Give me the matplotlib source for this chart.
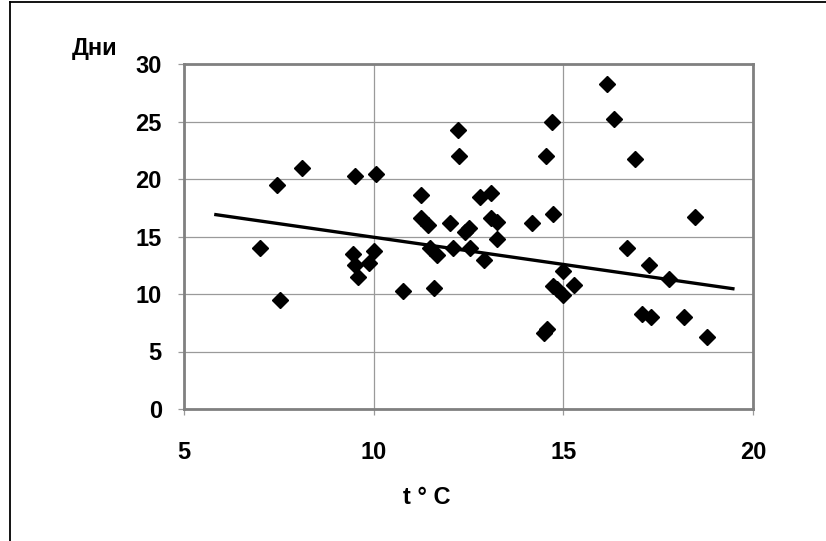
import matplotlib
matplotlib.use("Agg")
import matplotlib.pyplot as plt
from matplotlib.lines import Line2D
import numpy as np

# Температура (t, °C) і тривалість (дні)
temp = [7.0, 7.45, 7.52, 8.12, 9.45, 9.5, 9.52, 9.58, 9.89, 10.02, 10.06,
        10.77, 11.25, 11.25, 11.43, 11.48, 11.58, 11.67, 12.0, 12.1, 12.23,
        12.26, 12.41, 12.52, 12.53, 12.81, 12.9, 13.1, 13.1, 13.26, 13.26,
        14.17, 14.5, 14.58, 14.54, 14.71, 14.72, 14.72, 14.84, 15.0, 15.0,
        15.29, 16.14, 16.33, 16.67, 16.89, 17.08, 17.25, 17.32, 17.78, 18.18,
        18.48, 18.79]
days = [14.0, 19.5, 9.5, 21.0, 13.5, 12.5, 20.3, 11.5, 12.7, 13.7, 20.4,
        10.3, 18.6, 16.6, 16.0, 14.0, 10.5, 13.4, 16.2, 14.0, 24.3,
        22.0, 15.4, 15.7, 14.0, 18.4, 13.0, 18.8, 16.6, 16.3, 14.8,
        16.2, 6.6, 7.0, 22.0, 25.0, 17.0, 10.7, 10.4, 12.0, 9.9,
        10.8, 28.3, 25.2, 14.0, 21.7, 8.3, 12.5, 8.0, 11.3, 8.0,
        16.7, 6.3]

# лінія тренду, як на рисунку
trend_range = [5.84, 19.47]
trend_slope = -0.4725
trend_intercept = 19.66

x_ticks = [5, 10, 15, 20]
y_ticks = [0, 5, 10, 15, 20, 25, 30]

plt.rcParams["font.family"] = ["Liberation Sans Narrow", "Liberation Sans", "DejaVu Sans"]
plt.rcParams["font.weight"] = "bold"

fig = plt.figure(figsize=(8.26, 5.41), dpi=100)
ax = fig.add_axes([184 / 826, 1 - 409 / 541, 569 / 826, 345 / 541])

ax.grid(True, color="#9a9a9a", lw=0.9)
ax.set_axisbelow(True)

ax.plot(temp, days, "D", color="black", ms=7.8, zorder=3)

tx = np.array(trend_range)
ax.plot(tx, trend_slope * tx + trend_intercept, color="black", lw=2.4, zorder=4)

ax.set_xlim(5, 20)
ax.set_ylim(0, 30)
ax.set_xticks(x_ticks)
ax.set_yticks(y_ticks)
ax.tick_params(labelsize=17, color="#9a9a9a", length=4, width=0.9)
ax.tick_params(axis="x", pad=19)
ax.tick_params(axis="y", pad=12)
for s in ax.spines.values():
    s.set_color("#808080")
    s.set_linewidth(2)

fig.text(95 / 826, 1 - 48 / 541, "Дни", fontsize=17, ha="center", va="center")
fig.text(427 / 826, 1 - 497 / 541, "t ° C", fontsize=17, ha="center", va="center")

# рамка зліва та зверху
fig.add_artist(Line2D([9.5 / 826, 9.5 / 826], [0, 1 - 2 / 541],
                      transform=fig.transFigure, color="black", lw=1.3))
fig.add_artist(Line2D([9.5 / 826, 1], [1 - 2 / 541, 1 - 2 / 541],
                      transform=fig.transFigure, color="black", lw=1.3))

fig.savefig("out.png", dpi=100)
